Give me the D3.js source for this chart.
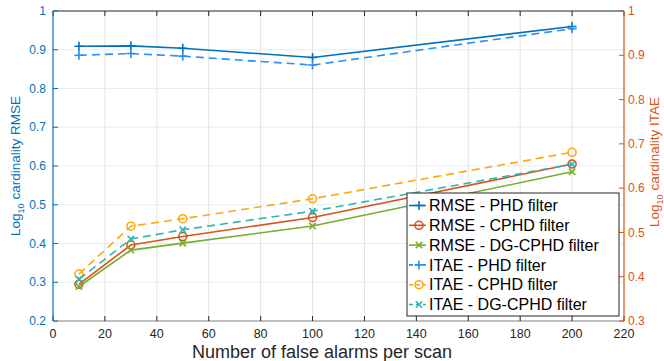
<!DOCTYPE html>
<html>
<head>
<meta charset="utf-8">
<script src="https://cdn.jsdelivr.net/npm/d3@7"></script>
<style>
  html, body { margin: 0; padding: 0; background: #fff; }
  svg { display: block; font-family: "Liberation Sans", Arial, Helvetica, sans-serif; }
</style>
</head>
<body>
<svg id="chart" width="664" height="361"></svg>
<script>
// Number of false alarms per scan
const falseAlarms = [10, 30, 50, 100, 200];

// Log10 cardinality RMSE (left axis)
const rmsePHD    = [0.909, 0.910, 0.904, 0.880, 0.960];
const rmseCPHD   = [0.295, 0.396, 0.418, 0.467, 0.605];
const rmseDGCPHD = [0.289, 0.383, 0.401, 0.445, 0.585];

// Log10 cardinality ITAE (right axis)
const itaePHD    = [0.900, 0.904, 0.898, 0.878, 0.960];
const itaeCPHD   = [0.406, 0.514, 0.531, 0.576, 0.681];
const itaeDGCPHD = [0.394, 0.485, 0.506, 0.548, 0.654];

const xTicks      = [0, 20, 40, 60, 80, 100, 120, 140, 160, 180, 200, 220];
const leftTicks   = [0.2, 0.3, 0.4, 0.5, 0.6, 0.7, 0.8, 0.9, 1];
const rightTicks  = [0.3, 0.4, 0.5, 0.6, 0.7, 0.8, 0.9, 1];

const seriesNames = [
  "RMSE - PHD filter", "RMSE - CPHD filter", "RMSE - DG-CPHD filter",
  "ITAE - PHD filter", "ITAE - CPHD filter", "ITAE - DG-CPHD filter"
];

const svg = d3.select("#chart");
const L = 53, R = 624, T = 11, B = 321;

const x  = d3.scaleLinear().domain([0, 220]).range([L, R]);
const yL = d3.scaleLinear().domain([0.2, 1]).range([B, T]);
const yR = d3.scaleLinear().domain([0.3, 1]).range([B, T]);

const cLeft = "#0072BD", cRight = "#D95319", cAxis = "#262626";

// grid
const grid = svg.append("g");
grid.selectAll("line.gx").data(xTicks.slice(1, -1)).join("line")
  .attr("x1", d => x(d)).attr("x2", d => x(d)).attr("y1", T).attr("y2", B)
  .attr("stroke", "#e3e3e3").attr("stroke-width", 1);
grid.selectAll("line.gy").data(leftTicks.slice(1, -1)).join("line")
  .attr("y1", d => yL(d)).attr("y2", d => yL(d)).attr("x1", L).attr("x2", R)
  .attr("stroke", "#e3eef7").attr("stroke-width", 1);

const series = [
  { name: seriesNames[0], vals: rmsePHD,    y: yL, color: "#0072BD", dash: null,  marker: "plus" },
  { name: seriesNames[1], vals: rmseCPHD,   y: yL, color: "#D95319", dash: null,  marker: "circle" },
  { name: seriesNames[2], vals: rmseDGCPHD, y: yL, color: "#77AC30", dash: null,  marker: "cross" },
  { name: seriesNames[3], vals: itaePHD,    y: yR, color: "#2B8EF0", dash: "8,5", marker: "plus" },
  { name: seriesNames[4], vals: itaeCPHD,   y: yR, color: "#FDA70F", dash: "8,5", marker: "circle" },
  { name: seriesNames[5], vals: itaeDGCPHD, y: yR, color: "#2EB5AE", dash: "8,5", marker: "cross" }
];

function drawMarker(g, type, cx, cy, color) {
  if (type === "plus") {
    g.append("path").attr("d", `M${cx-4.5},${cy}H${cx+4.5}M${cx},${cy-4.5}V${cy+4.5}`)
      .attr("stroke", color).attr("stroke-width", 1.6).attr("fill", "none");
  } else if (type === "circle") {
    g.append("circle").attr("cx", cx).attr("cy", cy).attr("r", 4)
      .attr("stroke", color).attr("stroke-width", 1.6).attr("fill", "none");
  } else {
    g.append("path").attr("d", `M${cx-3.2},${cy-3.2}L${cx+3.2},${cy+3.2}M${cx-3.2},${cy+3.2}L${cx+3.2},${cy-3.2}`)
      .attr("stroke", color).attr("stroke-width", 1.6).attr("fill", "none");
  }
}

const plot = svg.append("g");
series.forEach(s => {
  const line = d3.line().x((d, i) => x(falseAlarms[i])).y(d => s.y(d));
  plot.append("path").datum(s.vals).attr("d", line)
    .attr("fill", "none").attr("stroke", s.color).attr("stroke-width", 1.6)
    .attr("stroke-dasharray", s.dash);
  s.vals.forEach((v, i) => drawMarker(plot, s.marker, x(falseAlarms[i]), s.y(v), s.color));
});

// axes
const tickLen = 5;
const axisG = svg.append("g");
// top & bottom
axisG.append("line").attr("x1", L).attr("x2", R).attr("y1", T).attr("y2", T).attr("stroke", cAxis).attr("stroke-width", 1);
axisG.append("line").attr("x1", L).attr("x2", R).attr("y1", B).attr("y2", B).attr("stroke", "#808080").attr("stroke-width", 1.2);
xTicks.forEach(t => {
  axisG.append("line").attr("x1", x(t)).attr("x2", x(t)).attr("y1", B).attr("y2", B - tickLen).attr("stroke", cAxis);
  axisG.append("line").attr("x1", x(t)).attr("x2", x(t)).attr("y1", T).attr("y2", T + tickLen).attr("stroke", cAxis);
  axisG.append("text").attr("x", x(t)).attr("y", B + 17).attr("text-anchor", "middle")
    .attr("font-size", 12.5).attr("fill", cAxis).text(t);
});
// left
axisG.append("line").attr("x1", L).attr("x2", L).attr("y1", T).attr("y2", B).attr("stroke", cLeft).attr("stroke-width", 1.2);
leftTicks.forEach(t => {
  axisG.append("line").attr("x1", L).attr("x2", L + tickLen).attr("y1", yL(t)).attr("y2", yL(t)).attr("stroke", cLeft);
  axisG.append("text").attr("x", L - 7).attr("y", yL(t)).attr("dy", "0.35em").attr("text-anchor", "end")
    .attr("font-size", 12).attr("fill", cLeft).text(d3.format("~g")(t));
});
// right
axisG.append("line").attr("x1", R).attr("x2", R).attr("y1", T).attr("y2", B).attr("stroke", cRight).attr("stroke-width", 1.2);
rightTicks.forEach(t => {
  axisG.append("line").attr("x1", R).attr("x2", R - tickLen).attr("y1", yR(t)).attr("y2", yR(t)).attr("stroke", cRight);
  axisG.append("text").attr("x", R + 4).attr("y", yR(t)).attr("dy", "0.35em").attr("text-anchor", "start")
    .attr("font-size", 12).attr("fill", cRight).text(d3.format("~g")(t));
});

// axis titles
svg.append("text").attr("x", 322).attr("y", 358).attr("text-anchor", "middle")
  .attr("font-size", 18).attr("fill", cAxis).text("Number of false alarms per scan");

const lt = svg.append("text").attr("transform", `translate(20,${(T + B) / 2}) rotate(-90)`)
  .attr("text-anchor", "middle").attr("font-size", 13.5).attr("fill", cLeft);
lt.append("tspan").text("Log");
lt.append("tspan").attr("font-size", 9).attr("dy", 4).text("10");
lt.append("tspan").attr("dy", -4).text(" cardinality RMSE");

const rt = svg.append("text").attr("transform", `translate(659,${(T + B) / 2 - 4}) rotate(-90)`)
  .attr("text-anchor", "middle").attr("font-size", 13.5).attr("fill", cRight);
rt.append("tspan").text("Log");
rt.append("tspan").attr("font-size", 9).attr("dy", 4).text("10");
rt.append("tspan").attr("dy", -4).text(" cardinality ITAE");

// legend
const lg = svg.append("g");
const lx = 407, ly = 193, lw = 212, lh = 123;
lg.append("rect").attr("x", lx).attr("y", ly).attr("width", lw).attr("height", lh)
  .attr("fill", "#fff").attr("stroke", cAxis).attr("stroke-width", 1);
series.forEach((s, i) => {
  const cy = ly + 12.5 + i * 19.8;
  lg.append("line").attr("x1", lx + 2).attr("x2", lx + 19).attr("y1", cy).attr("y2", cy)
    .attr("stroke", s.color).attr("stroke-width", 1.6).attr("stroke-dasharray", s.dash ? "4,3" : null);
  drawMarker(lg, s.marker, lx + 12, cy, s.color);
  lg.append("text").attr("x", lx + 22).attr("y", cy).attr("dy", "0.36em")
    .attr("font-size", 16).attr("fill", "#000").text(s.name);
});
</script>
</body>
</html>
